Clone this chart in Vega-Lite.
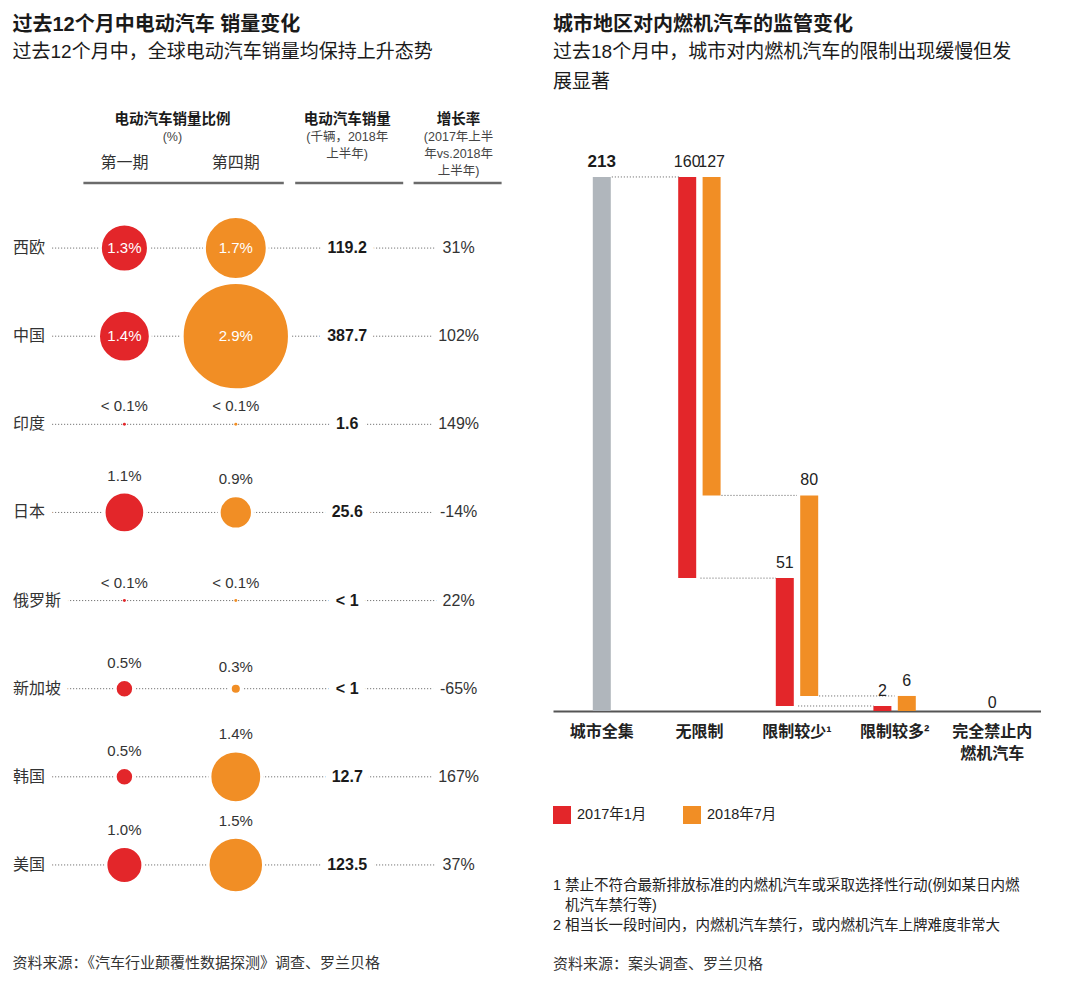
{
  "$schema": "https://vega.github.io/schema/vega-lite/v6.json",
  "background": "white",
  "padding": {"left": 12, "top": 15, "right": 0, "bottom": 0},
  "config": {
    "font": "Liberation Sans, Noto Sans CJK SC",
    "view": {"stroke": null},
    "title": {"anchor": "start", "fontSize": 20, "fontWeight": "bold", "color": "#1a1a1a", "subtitleFontSize": 19, "subtitleColor": "#1a1a1a", "subtitleLineHeight": 30, "subtitleFont": "Liberation Sans, Noto Sans CJK SC"}
  },
  "datasets": {
    "header": [
      {"col": "第一期", "line": 0, "text": "电动汽车销量比例", "kind": "group"},
      {"col": "第一期", "line": 1, "text": "(%)", "kind": "groupunit"},
      {"col": "销量", "line": 0, "text": "电动汽车销量", "kind": "title"},
      {"col": "增长率", "line": 0, "text": "增长率", "kind": "title"},
      {"col": "销量", "line": 1, "text": "(千辆，2018年", "kind": "unit"},
      {"col": "销量", "line": 2, "text": "上半年)", "kind": "unit"},
      {"col": "增长率", "line": 1, "text": "(2017年上半", "kind": "unit"},
      {"col": "增长率", "line": 2, "text": "年vs.2018年", "kind": "unit"},
      {"col": "增长率", "line": 3, "text": "上半年)", "kind": "unit"},
      {"col": "第一期", "line": 2, "text": "第一期", "kind": "period"},
      {"col": "第四期", "line": 2, "text": "第四期", "kind": "period"}
    ],
    "hrules": [
      {"from": "第一期", "to": "第四期", "line": 3.7},
      {"from": "销量", "to": "销量", "line": 3.7},
      {"from": "增长率", "to": "增长率", "line": 3.7}
    ],
    "regions": [
      {"region": "西欧", "sales": "119.2", "growth": "31%"},
      {"region": "中国", "sales": "387.7", "growth": "102%"},
      {"region": "印度", "sales": "1.6", "growth": "149%"},
      {"region": "日本", "sales": "25.6", "growth": "-14%"},
      {"region": "俄罗斯", "sales": "< 1", "growth": "22%"},
      {"region": "新加坡", "sales": "< 1", "growth": "-65%"},
      {"region": "韩国", "sales": "12.7", "growth": "167%"},
      {"region": "美国", "sales": "123.5", "growth": "37%"}
    ],
    "shares": [
      {"region": "西欧", "period": "第一期", "share": 1.3, "label": "1.3%"},
      {"region": "西欧", "period": "第四期", "share": 1.7, "label": "1.7%"},
      {"region": "中国", "period": "第一期", "share": 1.4, "label": "1.4%"},
      {"region": "中国", "period": "第四期", "share": 2.9, "label": "2.9%"},
      {"region": "印度", "period": "第一期", "share": 0.08, "label": "< 0.1%"},
      {"region": "印度", "period": "第四期", "share": 0.08, "label": "< 0.1%"},
      {"region": "日本", "period": "第一期", "share": 1.1, "label": "1.1%"},
      {"region": "日本", "period": "第四期", "share": 0.9, "label": "0.9%"},
      {"region": "俄罗斯", "period": "第一期", "share": 0.08, "label": "< 0.1%"},
      {"region": "俄罗斯", "period": "第四期", "share": 0.08, "label": "< 0.1%"},
      {"region": "新加坡", "period": "第一期", "share": 0.5, "label": "0.5%"},
      {"region": "新加坡", "period": "第四期", "share": 0.3, "label": "0.3%"},
      {"region": "韩国", "period": "第一期", "share": 0.5, "label": "0.5%"},
      {"region": "韩国", "period": "第四期", "share": 1.4, "label": "1.4%"},
      {"region": "美国", "period": "第一期", "share": 1.0, "label": "1.0%"},
      {"region": "美国", "period": "第四期", "share": 1.5, "label": "1.5%"}
    ],
    "total": [
      {"cat": "城市全集", "lo": 0, "hi": 213, "value": "213"}
    ],
    "bars": [
      {"cat": "无限制", "series": "2017年1月", "lo": 53, "hi": 213, "value": "160"},
      {"cat": "无限制", "series": "2018年7月", "lo": 86, "hi": 213, "value": "127"},
      {"cat": "限制较少¹", "series": "2017年1月", "lo": 2, "hi": 53, "value": "51"},
      {"cat": "限制较少¹", "series": "2018年7月", "lo": 6, "hi": 86, "value": "80"},
      {"cat": "限制较多²", "series": "2017年1月", "lo": 0, "hi": 2, "value": "2"},
      {"cat": "限制较多²", "series": "2018年7月", "lo": 0, "hi": 6, "value": "6"}
    ],
    "zero": [
      {"cat": "完全禁止内燃机汽车", "hi": 0, "value": "0"}
    ],
    "connectors": [
      {"from": "城市全集", "to": "无限制", "level": 213, "series": "total"},
      {"from": "无限制", "to": "限制较少¹", "level": 53, "series": "2017年1月"},
      {"from": "限制较少¹", "to": "限制较多²", "level": 2, "series": "2017年1月"},
      {"from": "无限制", "to": "限制较少¹", "level": 86, "series": "2018年7月"},
      {"from": "限制较少¹", "to": "限制较多²", "level": 6, "series": "2018年7月"}
    ]
  },
  "spacing": 50,
  "resolve": {"scale": {"color": "independent", "size": "independent", "xOffset": "independent", "yOffset": "independent"}, "legend": {"color": "independent", "size": "independent"}},
  "hconcat": [
    {
      "title": {"text": "过去12个月中电动汽车 销量变化", "subtitle": "过去12个月中，全球电动汽车销量均保持上升态势", "offset": 41, "subtitlePadding": 8},
      "spacing": 16,
      "vconcat": [
        {
          "width": 445.6,
          "height": 85,
          "encoding": {
            "y": {"field": "line", "type": "quantitative", "scale": {"domain": [-1, 4], "reverse": true, "nice": false, "zero": false}, "axis": null}
          },
          "layer": [
            {
              "data": {"name": "header"},
              "transform": [{"filter": "datum.kind == 'group'"}],
              "mark": {"type": "text", "fontWeight": "bold", "fontSize": 14.5, "color": "#1a1a1a", "dx": 48},
              "encoding": {
                "x": {"field": "col", "type": "nominal", "scale": {"type": "point", "domain": ["国家", "第一期", "第四期", "销量", "增长率"], "padding": 0}, "axis": null},
                "text": {"field": "text"}
              }
            },
            {
              "data": {"name": "header"},
              "transform": [{"filter": "datum.kind == 'groupunit'"}],
              "mark": {"type": "text", "fontSize": 12.5, "color": "#444", "dx": 48},
              "encoding": {
                "x": {"field": "col", "type": "nominal"},
                "text": {"field": "text"}
              }
            },
            {
              "data": {"name": "header"},
              "transform": [{"filter": "datum.kind == 'title'"}],
              "mark": {"type": "text", "fontWeight": "bold", "fontSize": 14.5, "color": "#1a1a1a"},
              "encoding": {
                "x": {"field": "col", "type": "nominal"},
                "text": {"field": "text"}
              }
            },
            {
              "data": {"name": "header"},
              "transform": [{"filter": "datum.kind == 'unit'"}],
              "mark": {"type": "text", "fontSize": 12.5, "color": "#444"},
              "encoding": {
                "x": {"field": "col", "type": "nominal"},
                "text": {"field": "text"}
              }
            },
            {
              "data": {"name": "header"},
              "transform": [{"filter": "datum.kind == 'period'"}],
              "mark": {"type": "text", "fontSize": 16, "color": "#333", "dy": 9},
              "encoding": {
                "x": {"field": "col", "type": "nominal"},
                "text": {"field": "text"}
              }
            },
            {
              "data": {"name": "hrules"},
              "transform": [{"filter": "datum.from == '第一期'"}],
              "mark": {"type": "rule", "color": "#6b6b6b", "strokeWidth": 2.5, "xOffset": -41, "x2Offset": 48},
              "encoding": {
                "x": {"field": "from", "type": "nominal"},
                "x2": {"field": "to"}
              }
            },
            {
              "data": {"name": "hrules"},
              "transform": [{"filter": "datum.from == '销量'"}],
              "mark": {"type": "rule", "color": "#6b6b6b", "strokeWidth": 2.5, "xOffset": -52, "x2Offset": 56},
              "encoding": {
                "x": {"field": "from", "type": "nominal"},
                "x2": {"field": "to"}
              }
            },
            {
              "data": {"name": "hrules"},
              "transform": [{"filter": "datum.from == '增长率'"}],
              "mark": {"type": "rule", "color": "#6b6b6b", "strokeWidth": 2.5, "xOffset": -45, "x2Offset": 43},
              "encoding": {
                "x": {"field": "from", "type": "nominal"},
                "x2": {"field": "to"}
              }
            }
          ]
        },
        {
          "width": 445.6,
          "height": 705,
          "title": {"text": "资料来源：《汽车行业颠覆性数据探测》调查、罗兰贝格", "orient": "bottom", "anchor": "start", "fontSize": 15, "fontWeight": "normal", "color": "#333", "offset": 47},
          "encoding": {
            "y": {"field": "region", "type": "nominal", "scale": {"type": "band", "domain": ["西欧", "中国", "印度", "日本", "俄罗斯", "新加坡", "韩国", "美国"], "paddingInner": 1, "paddingOuter": 0.5}, "axis": null}
          },
          "layer": [
            {
              "data": {"name": "regions"},
              "mark": {"type": "rule", "color": "#777", "strokeWidth": 1, "strokeDash": [1.2, 1.8]},
              "encoding": {
                "x": {"datum": "国家", "type": "nominal", "scale": {"type": "point", "domain": ["国家", "第一期", "第四期", "销量", "增长率"], "padding": 0}, "axis": null},
                "x2": {"datum": "增长率"}
              }
            },
            {
              "data": {"name": "shares"},
              "mark": {"type": "circle", "opacity": 1, "stroke": "white"},
              "encoding": {
                "x": {"field": "period", "type": "nominal"},
                "size": {"field": "share", "type": "quantitative", "scale": {"type": "pow", "exponent": 2, "domain": [0, 2.9], "range": [0, 11513]}, "legend": null},
                "color": {"field": "period", "type": "nominal", "scale": {"domain": ["第一期", "第四期"], "range": ["#E3262A", "#F18E25"]}, "legend": null},
                "strokeWidth": {"condition": {"test": "datum.share > 0.2", "value": 3}, "value": 0}
              }
            },
            {
              "data": {"name": "shares"},
              "transform": [{"filter": "datum.region == '西欧' || datum.region == '中国'"}],
              "mark": {"type": "text", "fontSize": 15, "color": "white"},
              "encoding": {
                "x": {"field": "period", "type": "nominal"},
                "text": {"field": "label"}
              }
            },
            {
              "data": {"name": "shares"},
              "transform": [{"filter": "datum.region != '西欧' && datum.region != '中国'"}],
              "mark": {"type": "text", "fontSize": 15, "color": "#333"},
              "encoding": {
                "x": {"field": "period", "type": "nominal"},
                "yOffset": {"field": "share", "type": "quantitative", "scale": {"domain": [0, 2.9], "range": [-16.5, -70.2]}},
                "text": {"field": "label"}
              }
            },
            {
              "data": {"name": "regions"},
              "mark": {"type": "text", "fontSize": 16, "align": "left", "color": "white", "stroke": "white", "strokeWidth": 16, "strokeJoin": "round"},
              "encoding": {"x": {"datum": "国家", "type": "nominal"}, "text": {"field": "region"}}
            },
            {
              "data": {"name": "regions"},
              "mark": {"type": "text", "fontSize": 16, "align": "left", "color": "#333"},
              "encoding": {"x": {"datum": "国家", "type": "nominal"}, "text": {"field": "region"}}
            },
            {
              "data": {"name": "regions"},
              "mark": {"type": "text", "fontSize": 16, "fontWeight": "bold", "color": "white", "stroke": "white", "strokeWidth": 16, "strokeJoin": "round"},
              "encoding": {"x": {"datum": "销量", "type": "nominal"}, "text": {"field": "sales"}}
            },
            {
              "data": {"name": "regions"},
              "mark": {"type": "text", "fontSize": 16, "fontWeight": "bold", "color": "#1a1a1a"},
              "encoding": {"x": {"datum": "销量", "type": "nominal"}, "text": {"field": "sales"}}
            },
            {
              "data": {"name": "regions"},
              "mark": {"type": "text", "fontSize": 16, "color": "white", "stroke": "white", "strokeWidth": 16, "strokeJoin": "round"},
              "encoding": {"x": {"datum": "增长率", "type": "nominal"}, "text": {"field": "growth"}}
            },
            {
              "data": {"name": "regions"},
              "mark": {"type": "text", "fontSize": 16, "color": "#333"},
              "encoding": {"x": {"datum": "增长率", "type": "nominal"}, "text": {"field": "growth"}}
            }
          ]
        }
      ]
    },
    {
      "title": {"text": "城市地区对内燃机汽车的监管变化", "subtitle": ["过去18个月中，城市对内燃机汽车的限制出现缓慢但发", "展显著"], "offset": 11, "subtitlePadding": 8},
      "vconcat": [
        {
          "width": 488,
          "height": 608,
          "title": {"text": ["1 禁止不符合最新排放标准的内燃机汽车或采取选择性行动(例如某日内燃", "\u200b\u00a0\u00a0\u00a0机汽车禁行等)", "2 相当长一段时间内，内燃机汽车禁行，或内燃机汽车上牌难度非常大"], "subtitle": "资料来源：案头调查、罗兰贝格", "orient": "bottom", "anchor": "start", "fontSize": 14.5, "fontWeight": "normal", "color": "#222", "lineHeight": 20, "subtitleFontSize": 15, "subtitleColor": "#333", "subtitleLineHeight": 20, "subtitlePadding": 23, "offset": 118},
          "layer": [
            {
              "data": {"name": "total"},
              "mark": {"type": "bar", "width": 18, "color": "#B0B6BC"},
              "encoding": {
                "x": {"field": "cat", "type": "nominal", "scale": {"domain": ["城市全集", "无限制", "限制较少¹", "限制较多²", "完全禁止内燃机汽车"], "paddingInner": 0, "paddingOuter": 0},
                  "axis": {
                    "title": null,
                    "labelFontSize": 16, "labelFontWeight": "bold", "labelColor": "#222", "labelPadding": 12, "labelLineHeight": 22, "labelAngle": 0,
                    "ticks": false, "domainColor": "#555", "domainWidth": 2,
                    "labelExpr": "datum.value == '完全禁止内燃机汽车' ? ['完全禁止内', '燃机汽车'] : datum.value"
                  }
                },
                "y": {"field": "lo", "type": "quantitative", "scale": {"domain": [0, 242.5], "nice": false}, "axis": null},
                "y2": {"field": "hi"}
              }
            },
            {
              "data": {"name": "bars"},
              "mark": {"type": "bar", "width": 18},
              "encoding": {
                "x": {"field": "cat", "type": "nominal"},
                "xOffset": {"field": "series", "type": "nominal", "scale": {"domain": ["2017年1月", "2018年7月"], "paddingInner": 0, "paddingOuter": 1.324}},
                "y": {"field": "lo", "type": "quantitative"},
                "y2": {"field": "hi"},
                "color": {"field": "series", "type": "nominal", "scale": {"domain": ["2017年1月", "2018年7月"], "range": ["#E3262A", "#F18E25"]},
                  "legend": {"title": null, "orient": "none", "legendX": 0, "legendY": 703, "padding": 0, "direction": "horizontal", "symbolType": "square", "symbolSize": 324, "symbolStrokeWidth": 0, "labelFontSize": 14.5, "labelColor": "#222", "labelOffset": 6, "columnPadding": 36}}
              }
            },
            {
              "data": {"name": "connectors"},
              "transform": [{"filter": "datum.series == 'total'"}],
              "mark": {"type": "rule", "color": "#777", "strokeWidth": 1, "strokeDash": [1.2, 1.8], "xOffset": 10, "x2Offset": -20},
              "encoding": {"x": {"field": "from", "type": "nominal"}, "x2": {"field": "to"}, "y": {"field": "level", "type": "quantitative"}}
            },
            {
              "data": {"name": "connectors"},
              "transform": [{"filter": "datum.series == '2017年1月'"}],
              "mark": {"type": "rule", "color": "#777", "strokeWidth": 1, "strokeDash": [1.2, 1.8], "xOffset": 1, "x2Offset": -21},
              "encoding": {"x": {"field": "from", "type": "nominal"}, "x2": {"field": "to"}, "y": {"field": "level", "type": "quantitative"}}
            },
            {
              "data": {"name": "connectors"},
              "transform": [{"filter": "datum.series == '2018年7月'"}],
              "mark": {"type": "rule", "color": "#777", "strokeWidth": 1, "strokeDash": [1.2, 1.8], "xOffset": 22, "x2Offset": 0},
              "encoding": {"x": {"field": "from", "type": "nominal"}, "x2": {"field": "to"}, "y": {"field": "level", "type": "quantitative"}}
            },
            {
              "data": {"name": "total"},
              "mark": {"type": "text", "fontSize": 17, "fontWeight": "bold", "color": "#1a1a1a", "baseline": "alphabetic", "dy": -10},
              "encoding": {"x": {"field": "cat", "type": "nominal"}, "y": {"field": "hi", "type": "quantitative"}, "text": {"field": "value"}}
            },
            {
              "data": {"name": "bars"},
              "mark": {"type": "text", "fontSize": 16, "color": "#222", "baseline": "alphabetic", "dy": -10},
              "encoding": {"x": {"field": "cat", "type": "nominal"}, "xOffset": {"field": "series", "type": "nominal"}, "y": {"field": "hi", "type": "quantitative"}, "text": {"field": "value"}}
            },
            {
              "data": {"name": "zero"},
              "mark": {"type": "text", "fontSize": 16, "color": "#222", "baseline": "alphabetic", "dy": -3},
              "encoding": {"x": {"field": "cat", "type": "nominal"}, "y": {"field": "hi", "type": "quantitative"}, "text": {"field": "value"}}
            }
          ]
        }
      ]
    }
  ]
}
